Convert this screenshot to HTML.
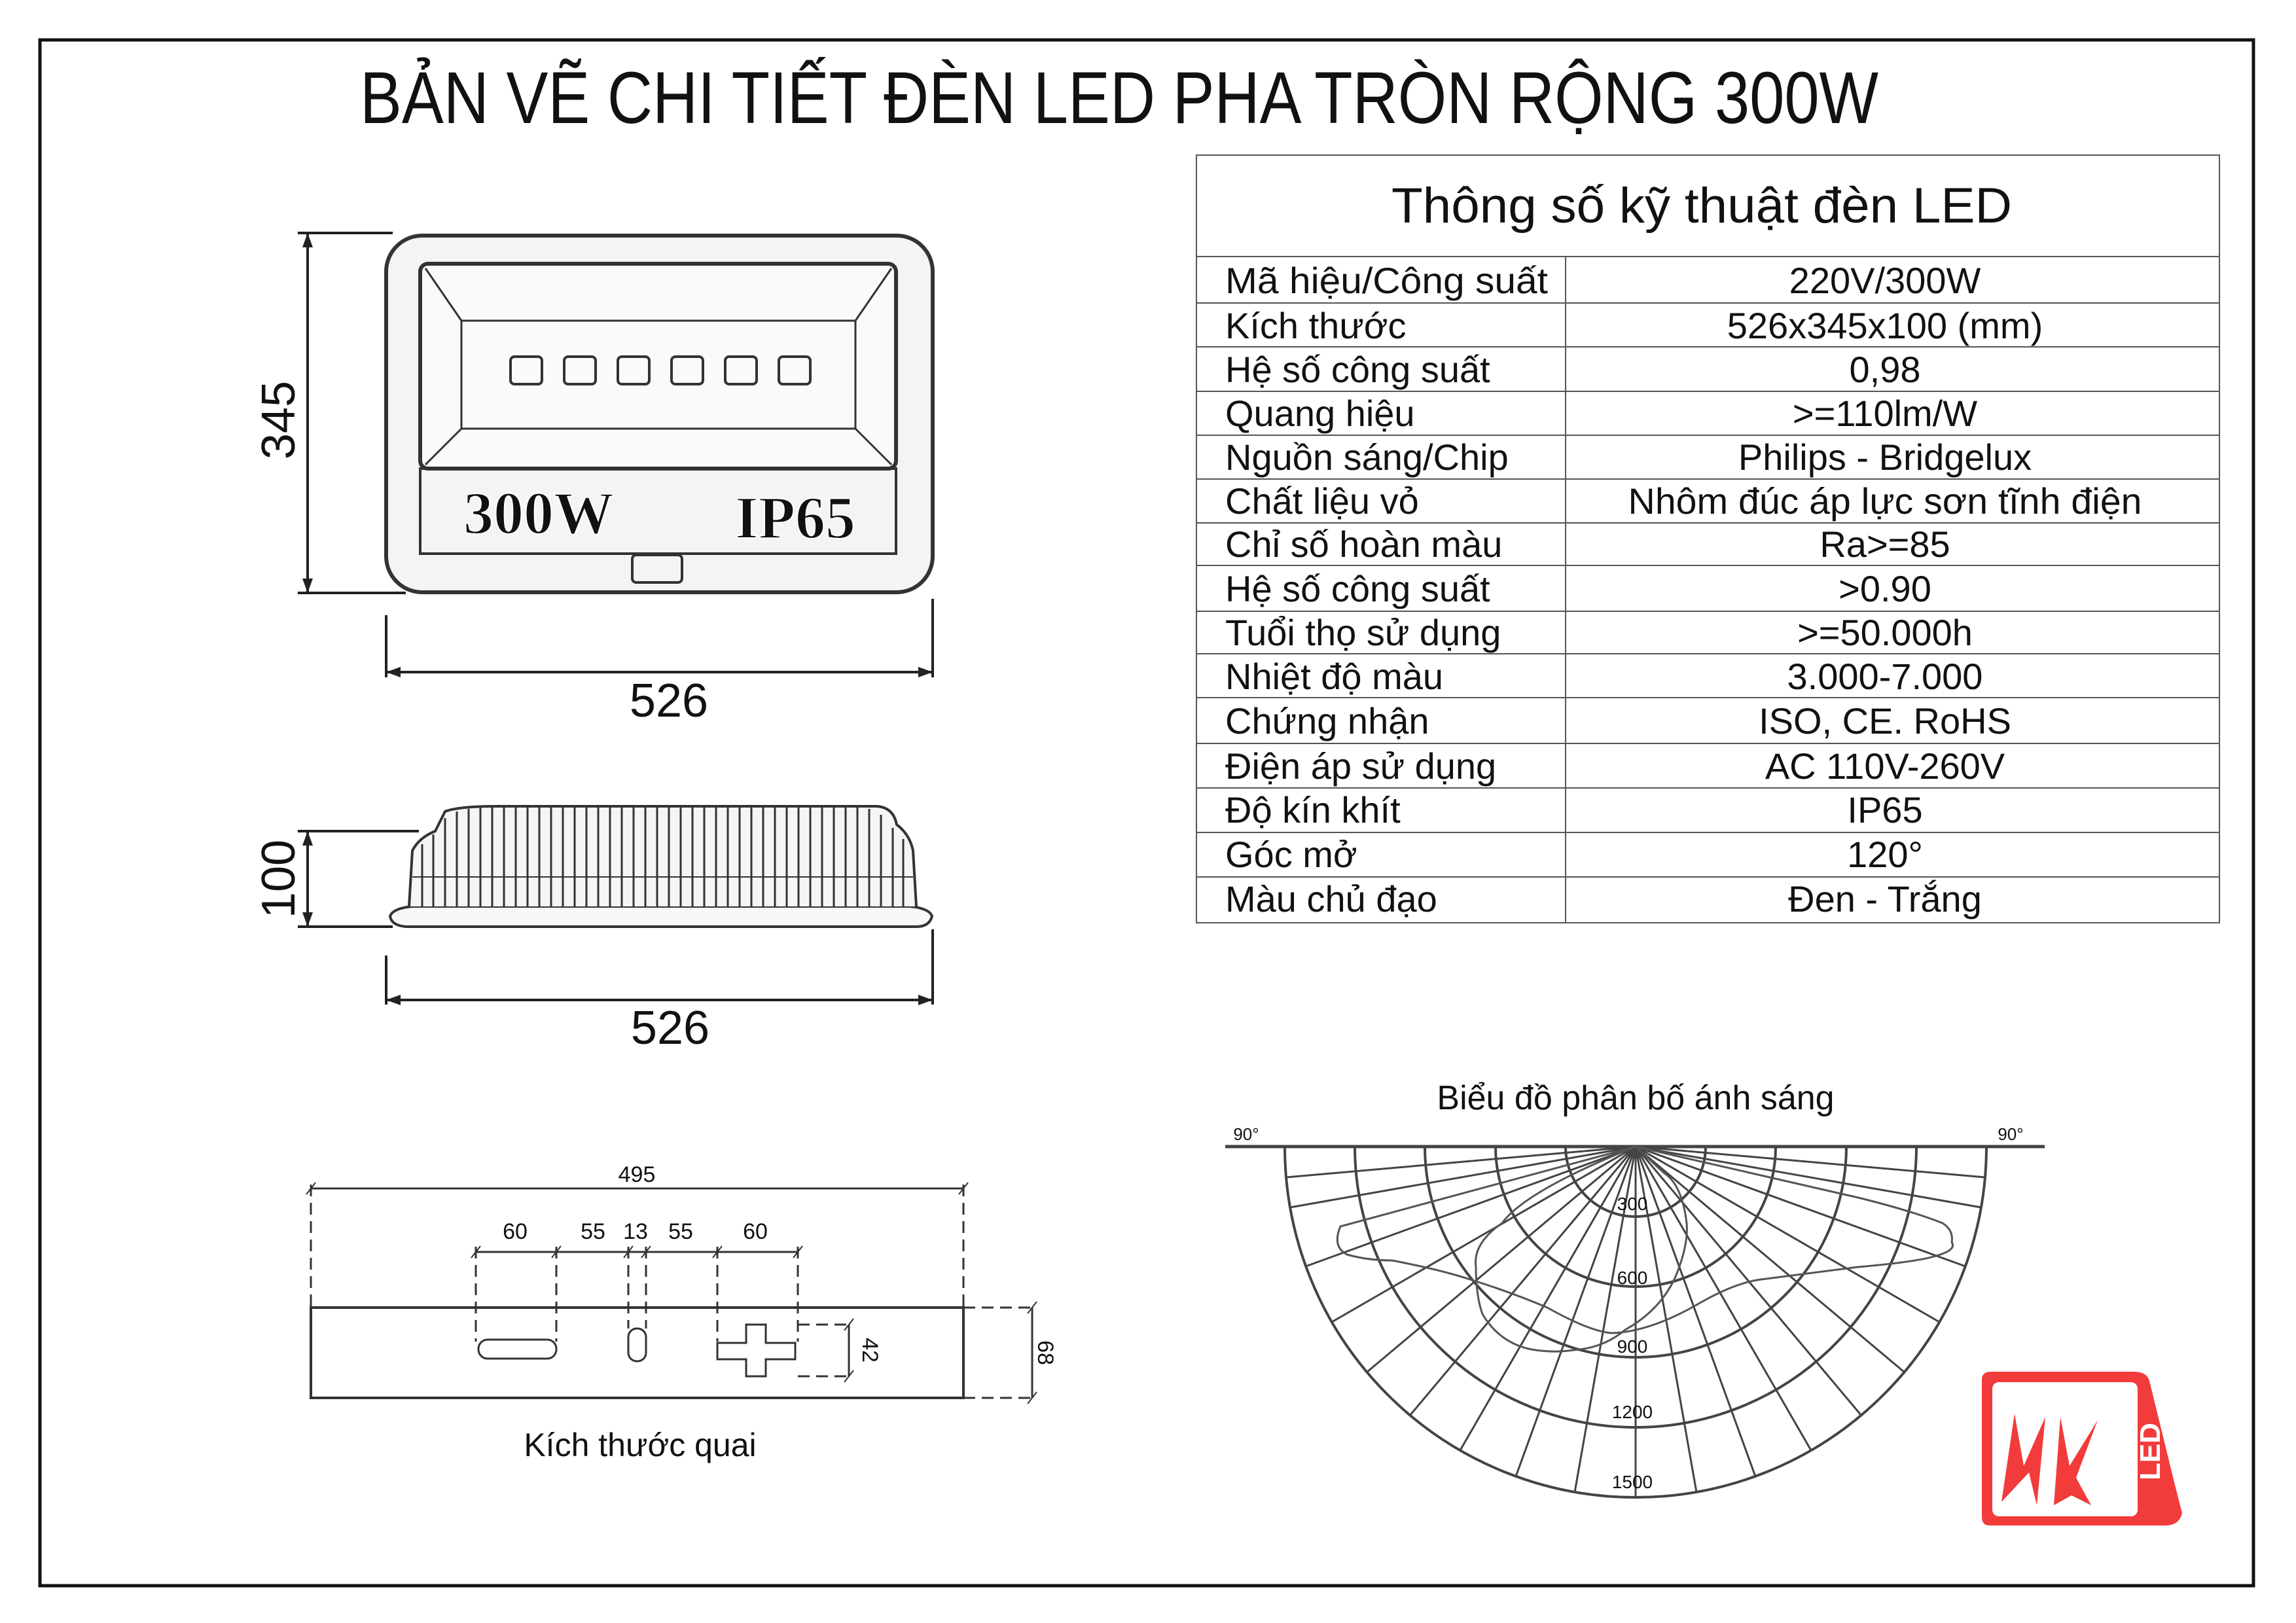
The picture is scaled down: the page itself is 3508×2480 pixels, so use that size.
<!DOCTYPE html>
<html><head><meta charset="utf-8"><style>
html,body{margin:0;padding:0;background:#fff;}
svg{display:block;}
text{font-family:"Liberation Sans","DejaVu Sans",sans-serif;fill:#111;}
</style></head><body>
<svg width="3508" height="2480" viewBox="0 0 3508 2480" xmlns="http://www.w3.org/2000/svg">
<rect x="0" y="0" width="3508" height="2480" fill="#fff"/>
<rect x="61" y="61" width="3382" height="2362" fill="none" stroke="#111" stroke-width="5"/>
<text x="1710" y="188" font-size="112" text-anchor="middle" textLength="2320" lengthAdjust="spacingAndGlyphs">BẢN VẼ CHI TIẾT ĐÈN LED PHA TRÒN RỘNG 300W</text>

<!-- table -->
<g stroke="#555" stroke-width="2" fill="none">
<rect x="1828" y="237" width="1563" height="1173"/>
<line x1="2392" y1="392" x2="2392" y2="1410"/>
<line x1="1828" y1="392" x2="3391" y2="392"/>
<line x1="1828" y1="463" x2="3391" y2="463"/>
<line x1="1828" y1="530" x2="3391" y2="530"/>
<line x1="1828" y1="598" x2="3391" y2="598"/>
<line x1="1828" y1="665" x2="3391" y2="665"/>
<line x1="1828" y1="732" x2="3391" y2="732"/>
<line x1="1828" y1="799" x2="3391" y2="799"/>
<line x1="1828" y1="864" x2="3391" y2="864"/>
<line x1="1828" y1="934" x2="3391" y2="934"/>
<line x1="1828" y1="999" x2="3391" y2="999"/>
<line x1="1828" y1="1066" x2="3391" y2="1066"/>
<line x1="1828" y1="1136" x2="3391" y2="1136"/>
<line x1="1828" y1="1204" x2="3391" y2="1204"/>
<line x1="1828" y1="1272" x2="3391" y2="1272"/>
<line x1="1828" y1="1340" x2="3391" y2="1340"/>
</g>
<text x="2600" y="340" font-size="76" text-anchor="middle" textLength="948" lengthAdjust="spacingAndGlyphs">Thông số kỹ thuật đèn LED</text>
<g font-size="56">
<text x="1872" y="448" textLength="493" lengthAdjust="spacingAndGlyphs">Mã hiệu/Công suất</text>
<text x="1872" y="517">Kích thước</text>
<text x="1872" y="584">Hệ số công suất</text>
<text x="1872" y="651">Quang hiệu</text>
<text x="1872" y="718">Nguồn sáng/Chip</text>
<text x="1872" y="785">Chất liệu vỏ</text>
<text x="1872" y="851">Chỉ số hoàn màu</text>
<text x="1872" y="919">Hệ số công suất</text>
<text x="1872" y="986">Tuổi thọ sử dụng</text>
<text x="1872" y="1053">Nhiệt độ màu</text>
<text x="1872" y="1121">Chứng nhận</text>
<text x="1872" y="1190">Điện áp sử dụng</text>
<text x="1872" y="1257">Độ kín khít</text>
<text x="1872" y="1325">Góc mở</text>
<text x="1872" y="1393">Màu chủ đạo</text>
</g>
<g font-size="56" text-anchor="middle">
<text x="2880" y="448">220V/300W</text>
<text x="2880" y="517">526x345x100 (mm)</text>
<text x="2880" y="584">0,98</text>
<text x="2880" y="651">&gt;=110lm/W</text>
<text x="2880" y="718">Philips - Bridgelux</text>
<text x="2880" y="785" textLength="785" lengthAdjust="spacingAndGlyphs">Nhôm đúc áp lực sơn tĩnh điện</text>
<text x="2880" y="851">Ra&gt;=85</text>
<text x="2880" y="919">&gt;0.90</text>
<text x="2880" y="986">&gt;=50.000h</text>
<text x="2880" y="1053">3.000-7.000</text>
<text x="2880" y="1121">ISO, CE. RoHS</text>
<text x="2880" y="1190">AC 110V-260V</text>
<text x="2880" y="1257">IP65</text>
<text x="2880" y="1325">120°</text>
<text x="2880" y="1393">Đen - Trắng</text>
</g>

<!-- top lamp -->
<g stroke="#333" fill="none">
<rect x="590" y="360" width="835" height="545" rx="55" stroke-width="6" fill="#f4f4f4"/>
<rect x="642" y="403" width="727" height="313" rx="12" stroke-width="6" fill="#fafafa"/>
<rect x="705" y="490" width="602" height="165" stroke-width="3"/>
<line x1="650" y1="410" x2="705" y2="490" stroke-width="3"/>
<line x1="1362" y1="410" x2="1307" y2="490" stroke-width="3"/>
<line x1="650" y1="710" x2="705" y2="655" stroke-width="3"/>
<line x1="1362" y1="710" x2="1307" y2="655" stroke-width="3"/>
<rect x="642" y="716" width="727" height="130" stroke-width="4"/>
<rect x="966" y="848" width="76" height="42" rx="6" stroke-width="4"/>
<g stroke-width="4">
<rect x="780" y="545" width="48" height="42" rx="6"/>
<rect x="862" y="545" width="48" height="42" rx="6"/>
<rect x="944" y="545" width="48" height="42" rx="6"/>
<rect x="1026" y="545" width="48" height="42" rx="6"/>
<rect x="1108" y="545" width="48" height="42" rx="6"/>
<rect x="1190" y="545" width="48" height="42" rx="6"/>
</g>
</g>
<text x="823" y="815" font-size="92" font-weight="bold" text-anchor="middle" style="font-family:'Liberation Serif',serif" stroke="#fff" stroke-width="2">300W</text>
<text x="1215" y="822" font-size="92" font-weight="bold" text-anchor="middle" style="font-family:'Liberation Serif',serif" stroke="#fff" stroke-width="2">IP65</text>

<!-- dimension lines -->
<g stroke="#222" stroke-width="4" fill="none">
<line x1="470" y1="356" x2="470" y2="906"/>
<line x1="455" y1="356" x2="600" y2="356"/>
<line x1="455" y1="906" x2="620" y2="906"/>
<line x1="590" y1="940" x2="590" y2="1035"/>
<line x1="1425" y1="915" x2="1425" y2="1035"/>
<line x1="590" y1="1027" x2="1425" y2="1027"/>
<line x1="470" y1="1270" x2="470" y2="1416"/>
<line x1="455" y1="1270" x2="640" y2="1270"/>
<line x1="455" y1="1416" x2="600" y2="1416"/>
<line x1="590" y1="1460" x2="590" y2="1535"/>
<line x1="1425" y1="1420" x2="1425" y2="1535"/>
<line x1="590" y1="1528" x2="1425" y2="1528"/>
</g>
<g fill="#222">
<path d="M470 356 l-8 22 h16z"/><path d="M470 906 l-8 -22 h16z"/>
<path d="M590 1027 l22 -8 v16z"/><path d="M1425 1027 l-22 -8 v16z"/>
<path d="M470 1270 l-8 22 h16z"/><path d="M470 1416 l-8 -22 h16z"/>
<path d="M590 1528 l22 -8 v16z"/><path d="M1425 1528 l-22 -8 v16z"/>
</g>
<text x="0" y="0" font-size="72" text-anchor="middle" transform="translate(450,642) rotate(-90)">345</text>
<text x="1022" y="1095" font-size="72" text-anchor="middle">526</text>
<text x="0" y="0" font-size="72" text-anchor="middle" transform="translate(450,1343) rotate(-90)">100</text>
<text x="1024" y="1595" font-size="72" text-anchor="middle">526</text>

<!-- side view heatsink -->
<g stroke="#333" fill="none">
<path d="M596 1400 Q600 1388 630 1385 L1390 1385 Q1420 1388 1424 1400 Q1420 1416 1400 1416 L620 1416 Q598 1414 596 1400Z" stroke-width="4" fill="#f8f8f8"/>
<path d="M625 1385 L630 1300 Q640 1280 665 1270 L680 1240 Q700 1232 760 1232 L1340 1232 Q1365 1234 1370 1260 Q1390 1275 1395 1300 L1400 1385" stroke-width="4" fill="#f5f5f5"/>
<g stroke-width="3">
<line x1="645" y1="1290" x2="645" y2="1385"/><line x1="662" y1="1275" x2="662" y2="1385"/>
<line x1="680" y1="1250" x2="680" y2="1385"/><line x1="698" y1="1240" x2="698" y2="1385"/>
<line x1="716" y1="1236" x2="716" y2="1385"/><line x1="734" y1="1234" x2="734" y2="1385"/>
<line x1="752" y1="1233" x2="752" y2="1385"/><line x1="770" y1="1233" x2="770" y2="1385"/>
<line x1="788" y1="1233" x2="788" y2="1385"/><line x1="806" y1="1233" x2="806" y2="1385"/>
<line x1="824" y1="1233" x2="824" y2="1385"/><line x1="842" y1="1233" x2="842" y2="1385"/>
<line x1="860" y1="1233" x2="860" y2="1385"/><line x1="878" y1="1233" x2="878" y2="1385"/>
<line x1="896" y1="1233" x2="896" y2="1385"/><line x1="914" y1="1233" x2="914" y2="1385"/>
<line x1="932" y1="1233" x2="932" y2="1385"/><line x1="950" y1="1233" x2="950" y2="1385"/>
<line x1="968" y1="1233" x2="968" y2="1385"/><line x1="986" y1="1233" x2="986" y2="1385"/>
<line x1="1004" y1="1233" x2="1004" y2="1385"/><line x1="1022" y1="1233" x2="1022" y2="1385"/>
<line x1="1040" y1="1233" x2="1040" y2="1385"/><line x1="1058" y1="1233" x2="1058" y2="1385"/>
<line x1="1076" y1="1233" x2="1076" y2="1385"/><line x1="1094" y1="1233" x2="1094" y2="1385"/>
<line x1="1112" y1="1233" x2="1112" y2="1385"/><line x1="1130" y1="1233" x2="1130" y2="1385"/>
<line x1="1148" y1="1233" x2="1148" y2="1385"/><line x1="1166" y1="1233" x2="1166" y2="1385"/>
<line x1="1184" y1="1233" x2="1184" y2="1385"/><line x1="1202" y1="1233" x2="1202" y2="1385"/>
<line x1="1220" y1="1233" x2="1220" y2="1385"/><line x1="1238" y1="1233" x2="1238" y2="1385"/>
<line x1="1256" y1="1233" x2="1256" y2="1385"/><line x1="1274" y1="1233" x2="1274" y2="1385"/>
<line x1="1292" y1="1233" x2="1292" y2="1385"/><line x1="1310" y1="1233" x2="1310" y2="1385"/>
<line x1="1328" y1="1236" x2="1328" y2="1385"/><line x1="1346" y1="1245" x2="1346" y2="1385"/>
<line x1="1364" y1="1265" x2="1364" y2="1385"/><line x1="1380" y1="1282" x2="1380" y2="1385"/>
</g>
<line x1="630" y1="1340" x2="1395" y2="1340" stroke-width="2"/>
</g>

<!-- bracket -->
<g stroke="#333" fill="none" stroke-width="3">
<rect x="475" y="1998" width="997" height="138" stroke-width="4"/>
<line x1="474" y1="1816" x2="1472" y2="1816"/>
<line x1="727" y1="1913" x2="1219" y2="1913"/>
<g stroke-dasharray="18 10">
<line x1="475" y1="1810" x2="475" y2="1998"/>
<line x1="1472" y1="1810" x2="1472" y2="1998"/>
<line x1="727" y1="1905" x2="727" y2="2050"/>
<line x1="850" y1="1905" x2="850" y2="2050"/>
<line x1="960" y1="1905" x2="960" y2="2030"/>
<line x1="987" y1="1905" x2="987" y2="2030"/>
<line x1="1096" y1="1905" x2="1096" y2="2050"/>
<line x1="1219" y1="1905" x2="1219" y2="2050"/>
<line x1="1472" y1="1998" x2="1580" y2="1998"/>
<line x1="1472" y1="2136" x2="1580" y2="2136"/>
<line x1="1219" y1="2024" x2="1300" y2="2024"/>
<line x1="1219" y1="2103" x2="1300" y2="2103"/>
</g>
<line x1="1577" y1="1998" x2="1577" y2="2136"/>
<line x1="1297" y1="2024" x2="1297" y2="2103"/>
<rect x="731" y="2047" width="119" height="29" rx="14"/>
<rect x="960" y="2030" width="27" height="50" rx="13"/>
<path d="M1140 2024 h30 v28 h45 v25 h-45 v26 h-30 v-26 h-44 v-25 h44z"/>
<g stroke-width="2">
<line x1="468" y1="1825" x2="482" y2="1807"/><line x1="1465" y1="1825" x2="1479" y2="1807"/>
<line x1="720" y1="1922" x2="734" y2="1904"/><line x1="843" y1="1922" x2="857" y2="1904"/>
<line x1="953" y1="1922" x2="967" y2="1904"/><line x1="980" y1="1922" x2="994" y2="1904"/>
<line x1="1089" y1="1922" x2="1103" y2="1904"/><line x1="1212" y1="1922" x2="1226" y2="1904"/>
<line x1="1570" y1="2007" x2="1584" y2="1989"/><line x1="1570" y1="2145" x2="1584" y2="2127"/>
<line x1="1290" y1="2033" x2="1304" y2="2015"/><line x1="1290" y1="2112" x2="1304" y2="2094"/>
</g>
</g>
<g font-size="34" text-anchor="middle">
<text x="973" y="1806">495</text>
<text x="787" y="1893">60</text>
<text x="906" y="1893">55</text>
<text x="971" y="1893">13</text>
<text x="1040" y="1893">55</text>
<text x="1154" y="1893">60</text>
<text x="0" y="0" transform="translate(1318,2063) rotate(90)">42</text>
<text x="0" y="0" transform="translate(1586,2067) rotate(90)">68</text>
</g>
<text x="978" y="2225" font-size="50" text-anchor="middle">Kích thước quai</text>

<!-- polar chart -->
<text x="2499" y="1695" font-size="52" text-anchor="middle">Biểu đồ phân bố ánh sáng</text>
<text x="1904" y="1742" font-size="26" text-anchor="middle">90°</text>
<text x="3072" y="1742" font-size="26" text-anchor="middle">90°</text>
<g stroke="#444" fill="none" stroke-width="4">
<line x1="1872" y1="1752" x2="3124" y2="1752" stroke-width="5"/>
<path d="M2392 1752 A107 107 0 0 0 2606 1752"/>
<path d="M2285 1752 A214 214 0 0 0 2713 1752"/>
<path d="M2177 1752 A322 322 0 0 0 2821 1752"/>
<path d="M2070 1752 A429 429 0 0 0 2928 1752"/>
<path d="M1963 1752 A536 536 0 0 0 3035 1752"/>
</g>
<g stroke="#444" stroke-width="3">
<line x1="2499" y1="1752" x2="2499" y2="2288"/>
<line x1="2499" y1="1752" x2="2592" y2="2280"/><line x1="2499" y1="1752" x2="2406" y2="2280"/>
<line x1="2499" y1="1752" x2="2682" y2="2256"/><line x1="2499" y1="1752" x2="2316" y2="2256"/>
<line x1="2499" y1="1752" x2="2767" y2="2216"/><line x1="2499" y1="1752" x2="2231" y2="2216"/>
<line x1="2499" y1="1752" x2="2844" y2="2163"/><line x1="2499" y1="1752" x2="2154" y2="2163"/>
<line x1="2499" y1="1752" x2="2910" y2="2097"/><line x1="2499" y1="1752" x2="2088" y2="2097"/>
<line x1="2499" y1="1752" x2="2963" y2="2020"/><line x1="2499" y1="1752" x2="2035" y2="2020"/>
<line x1="2499" y1="1752" x2="3003" y2="1935"/><line x1="2499" y1="1752" x2="1995" y2="1935"/>
<line x1="2499" y1="1752" x2="3027" y2="1845"/><line x1="2499" y1="1752" x2="1971" y2="1845"/>
<line x1="2499" y1="1752" x2="3033" y2="1799"/><line x1="2499" y1="1752" x2="1965" y2="1799"/>
</g>
<g stroke="#555" fill="none" stroke-width="3">
<path d="M2499 1752 L2048 1874 Q2035 1905 2058 1917 Q2090 1926 2127 1926 Q2200 1940 2246 1955 Q2310 1975 2364 1998 Q2430 2035 2463 2037 Q2520 2035 2592 1994 Q2650 1960 2691 1955 Q2770 1945 2839 1936 Q2930 1928 2958 1919 Q2990 1910 2982 1898 Q2985 1880 2968 1869 Q2920 1850 2839 1830 Z"/>
<path d="M2499 1752 Q2330 1820 2295 1869 Q2250 1900 2255 1936 Q2255 1980 2265 2008 Q2290 2050 2335 2061 Q2370 2068 2404 2063 Q2450 2060 2483 2032 Q2540 2000 2562 1946 Q2580 1900 2577 1869 Q2570 1810 2542 1792 Z"/>
</g>
<g font-size="28" text-anchor="middle" fill="#222">
<text x="2494" y="1849">300</text>
<text x="2494" y="1962">600</text>
<text x="2494" y="2067">900</text>
<text x="2494" y="2167">1200</text>
<text x="2494" y="2274">1500</text>
</g>

<!-- logo -->
<g>
<path d="M3032 2096 H3260 Q3280 2096 3284 2110 L3322 2265 L3334 2312 Q3330 2330 3310 2331 H3040 Q3028 2331 3028 2318 V2108 Q3028 2096 3042 2096Z" fill="#f23b3b"/>
<rect x="3044" y="2112" width="222" height="205" rx="10" fill="#fff"/>
<path d="M3058 2295 L3078 2160 L3092 2240 L3125 2165 L3112 2300 L3100 2250 Z" fill="#f23b3b"/>
<path d="M3138 2300 L3148 2165 L3162 2240 L3205 2170 L3172 2258 L3195 2300 L3165 2285 Z" fill="#f23b3b"/>
<text x="0" y="0" font-size="44" font-weight="bold" style="fill:#fff" transform="translate(3300,2262) rotate(-90)">LED</text>
</g>
</svg>
</body></html>
